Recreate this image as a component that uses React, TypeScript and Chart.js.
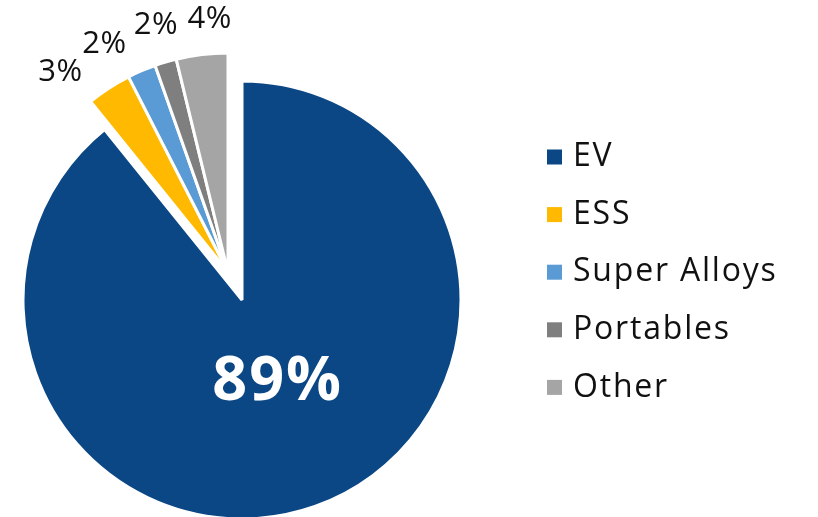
import React, { useEffect, useRef } from "react";
import { Chart, registerables } from "chart.js";

Chart.register(...registerables);

const categories = ["EV", "ESS", "Super Alloys", "Portables", "Other"];
const shares = [89.2, 3.3, 2.1, 1.6, 3.8];
const colors = ["#0A4784", "#FFB900", "#5B9BD5", "#7F7F7F", "#A5A5A5"];

const FONT = "'Open Sans', 'DejaVu Sans', sans-serif";
const RADIUS = 219;
const EXPLODE = { dx: -14, dy: -28 };
// label placement tweaks (canvas angle delta in degrees, radial gap in px)
const LABEL_NUDGE_DEG = [-4, -7, -5.3, 0.3, 2.7];
const LABEL_GAP = [0, 42, 40, 38, 34];
const LEGEND = { boxX: 547, textX: 573, firstY: 157, step: 57.6, box: 15, size: 32, spacing: 1.8 };

const explodePlugin = {
  id: "explodeGroup",
  beforeDatasetDraw(chart: any, args: any) {
    const ctx = chart.ctx;
    args.meta.data.forEach((arc: any, i: number) => {
      ctx.save();
      if (i > 0) ctx.translate(EXPLODE.dx, EXPLODE.dy);
      arc.draw(ctx, chart.chartArea);
      ctx.restore();
    });
    return false;
  },
};

const labelsPlugin = {
  id: "sliceLabels",
  afterDraw(chart: any) {
    const ctx = chart.ctx;
    const meta = chart.getDatasetMeta(0);
    const data: number[] = chart.data.datasets[0].data;
    const total = data.reduce((a, b) => a + b, 0);
    ctx.save();
    ctx.textAlign = "center";
    ctx.textBaseline = "middle";
    meta.data.forEach((arc: any, i: number) => {
      const p = arc.getProps(["x", "y", "startAngle", "endAngle", "outerRadius"], true);
      const a = (p.startAngle + p.endAngle) / 2 + (LABEL_NUDGE_DEG[i] * Math.PI) / 180;
      const txt = Math.round((data[i] / total) * 100) + "%";
      let cx = p.x;
      let cy = p.y;
      let d: number;
      if (i === 0) {
        d = p.outerRadius * 0.41;
        ctx.font = `bold 61px ${FONT}`;
        (ctx as any).letterSpacing = "2px";
        ctx.fillStyle = "#ffffff";
      } else {
        cx += EXPLODE.dx;
        cy += EXPLODE.dy;
        d = p.outerRadius + LABEL_GAP[i];
        ctx.font = `31px ${FONT}`;
        (ctx as any).letterSpacing = "0.5px";
        ctx.fillStyle = "#111111";
      }
      ctx.fillText(txt, cx + Math.cos(a) * d, cy + Math.sin(a) * d);
    });

    // legend
    ctx.textAlign = "left";
    ctx.textBaseline = "middle";
    ctx.font = `${LEGEND.size}px ${FONT}`;
    (ctx as any).letterSpacing = `${LEGEND.spacing}px`;
    chart.data.labels.forEach((lab: string, i: number) => {
      const y = LEGEND.firstY + i * LEGEND.step;
      ctx.fillStyle = chart.data.datasets[0].backgroundColor[i];
      ctx.fillRect(LEGEND.boxX, y - LEGEND.box / 2, LEGEND.box, LEGEND.box);
      ctx.fillStyle = "#111111";
      ctx.fillText(lab, LEGEND.textX, y);
    });
    (ctx as any).letterSpacing = "0px";
    ctx.restore();
  },
};

export default function App() {
  const ref = useRef<HTMLCanvasElement | null>(null);
  useEffect(() => {
    if (!ref.current) return;
    const chart = new Chart(ref.current, {
      type: "pie",
      data: {
        labels: categories,
        datasets: [
          {
            data: shares,
            backgroundColor: colors,
            borderColor: "#ffffff",
            borderWidth: 3,
          },
        ],
      },
      options: {
        animation: false,
        responsive: true,
        maintainAspectRatio: false,
        events: [],
        radius: RADIUS,
        layout: { padding: { left: 0, right: 334, top: 83, bottom: 0 } },
        plugins: {
          legend: { display: false },
          tooltip: { enabled: false },
        },
      } as any,
      plugins: [explodePlugin, labelsPlugin],
    });
    return () => chart.destroy();
  }, []);
  return (
    <div style={{ position: "absolute", left: 0, top: 0, width: 818, height: 517, background: "#fff" }}>
      <canvas ref={ref} />
    </div>
  );
}
